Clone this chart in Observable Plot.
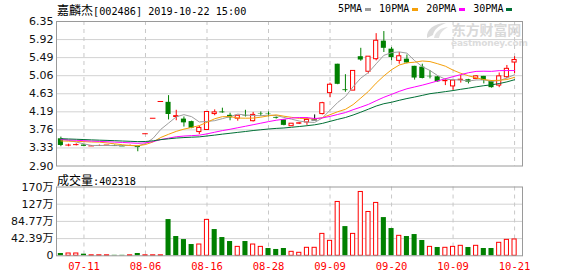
<!DOCTYPE html>
<html><head><meta charset="utf-8">
<script src="https://cdn.jsdelivr.net/npm/d3@7"></script>
<script src="https://cdn.jsdelivr.net/npm/@observablehq/plot@0.6"></script>
<style>
body{margin:0;background:#fff;}
#wrap{position:relative;width:578px;height:276px;overflow:hidden;background:#fff;}
.abs{position:absolute;white-space:nowrap;line-height:1;}
.cjk{font-family:"Noto Sans CJK SC",sans-serif;font-size:12px;}
.mono{font-family:"DejaVu Sans Mono",monospace;font-size:10px;}
#p1,#p2{position:absolute;left:0;}
#p1{top:0;} #p2{top:170px;}
.sw{display:inline-block;width:6px;height:3px;vertical-align:middle;margin:0 0 0 3px;}
</style></head>
<body><div id="wrap">
<svg class="abs" style="left:424px;top:21px" width="26" height="19" viewBox="0 0 26 19">
  <path d="M3 17 C 2 9, 10 2, 22 2 C 14 5, 10 9, 9 14 Z" fill="#dadada"/>
  <path d="M10 17 C 11 11, 16 7, 24 6 C 19 9, 16 12, 15 17 Z" fill="#e2e2e2"/>
</svg>
<div class="abs" style="left:452px;top:22px;color:#d9d9d9;font-family:'Noto Sans CJK SC';font-weight:bold;font-size:14px;letter-spacing:-0.2px">东方财富网</div>
<div class="abs" style="left:451px;top:39px;color:#dcdcdc;font-family:'DejaVu Sans';font-weight:bold;font-size:9px;letter-spacing:-0.2px">eastmoney.com</div>
<div id="p1"></div><div id="p2"></div>
<div class="abs" style="left:57px;top:2px;color:#000"><span class="cjk">嘉麟杰</span><span class="mono" style="font-size:10.2px">[002486] 2019-10-22 15:00</span></div>
<div class="abs mono" id="legend" style="left:338px;top:4px;color:#000"></div>
<div class="abs" style="left:57px;top:172px;color:#000"><span class="cjk">成交量</span><span class="mono" style="font-size:10.2px">:402318</span></div>
</div>
<script>
// ---- data (prices in yuan, volume in 万) ----
const preClose = [3.60,3.62,3.58,3.61,3.59,3.57,3.60,3.62,3.59,3.58,
  3.57,3.55,3.58,3.56,3.54,3.57,3.55,3.56,3.58,3.55,
  3.46,3.44,3.45,3.47,3.43,3.58,3.61,3.59,3.57];
const open = [3.55,3.40,3.41,3.40,3.38,3.39,3.40,3.39,3.38,3.39,
  3.37,3.67,4.04,4.44,4.42,4.07,4.02,3.96,3.71,3.76,
  4.14,4.19,4.11,4.03,4.10,3.97,4.15,4.14,4.06,4.00,
  3.85,3.91,3.94,4.00,4.14,4.64,5.33,4.72,4.70,5.51,
  5.15,5.45,5.88,5.69,5.41,5.45,5.28,5.26,5.04,5.03,
  4.925,4.80,4.95,4.96,4.98,5.04,4.92,4.82,5.02,5.37];
const high = [3.59,3.42,3.43,3.41,3.39,3.40,3.40,3.40,3.39,3.40,
  3.38,3.67,4.04,4.44,4.58,4.23,4.07,3.97,3.85,4.19,
  4.24,4.28,4.16,4.10,4.23,4.18,4.19,4.19,4.07,4.00,
  3.91,3.93,4.05,4.12,4.42,4.88,5.33,5.08,5.17,5.71,
  5.51,6.06,6.11,5.73,5.61,5.55,5.28,5.33,5.18,5.04,
  4.98,4.94,5.06,4.97,5.06,5.04,4.93,5.12,5.30,5.51];
const low = [3.36,3.36,3.38,3.36,3.37,3.38,3.40,3.38,3.37,3.38,
  3.24,3.67,4.04,4.44,4.00,3.98,3.83,3.79,3.65,3.75,
  4.10,4.16,3.98,3.97,4.07,3.95,4.08,4.07,4.02,3.86,
  3.85,3.89,3.87,4.00,4.12,4.53,4.84,4.66,4.70,5.40,
  5.10,5.41,5.61,5.41,5.33,5.34,4.95,4.98,4.98,4.90,
  4.82,4.70,4.88,4.86,4.96,4.86,4.76,4.77,4.98,5.10];
const close = [3.39,3.40,3.41,3.37,3.38,3.39,3.40,3.39,3.38,3.39,
  3.34,3.67,4.04,4.44,4.13,4.09,3.93,3.80,3.81,4.19,
  4.18,4.17,4.05,4.10,4.09,4.12,4.14,4.13,4.04,3.87,
  3.91,3.92,4.00,4.00,4.40,4.84,4.85,4.70,5.17,5.43,
  5.51,5.89,5.71,5.49,5.52,5.36,5.00,4.99,5.03,4.91,
  4.93,4.94,4.96,4.90,5.04,4.94,4.77,5.04,5.22,5.43];
const volume = [5.7,5.7,5.7,4.0,1.2,1.2,1.2,1.2,1.2,1.2,
  5.7,1.2,1.2,1.2,89.3,47.5,40.0,27.8,27.8,88.5,
  64.7,45.0,35.2,22.0,35.2,27.8,22.0,18.0,15.6,18.0,
  9.8,7.4,19.7,19.7,54.0,36.9,132.7,72.0,54.0,157.3,
  108.0,130.3,94.2,67.2,49.2,47.5,52.4,37.7,22.0,20.5,
  19.7,22.0,24.6,20.5,24.6,18.0,18.0,32.0,39.3,40.23];
const dateTickIndex = [3,11,19,27,35,43,51,59];
const dateTickLabels = ["07-11","08-06","08-16","08-28","09-09","09-20","10-09","10-21"];
const priceTickValues = [6.35,5.91875,5.4875,5.05625,4.625,4.19375,3.7625,3.33125,2.90];
const priceTickLabels = ["6.35","5.92","5.49","5.06","4.63","4.19","3.76","3.33","2.90"];
const volTickValues = [0,42.385,84.77,127.155,169.54];
const volTickLabels = ["0","42.39万","84.77万","127万","170万"];
const maPeriods = [5,10,20,30];
const maNames = ["5PMA","10PMA","20PMA","30PMA"];

// ---- styles ----
const RED="#ff0000", GREEN="#008000", BLACK="#000000";
const maColors = ["#9e9e9e","#f5a00a","#ff00ff","#006f35"];
const GRID="#d2d2d2", DASH="#c8c8c8", FRAME="#9a9a9a";
const numFont = "DejaVu Sans";
const svgStyle = {background:"transparent", overflow:"visible"};

const all = preClose.concat(close);
const rows = close.map((c,i)=>({i,o:open[i],h:high[i],l:low[i],c,v:volume[i],
  pc: all[preClose.length+i-1]}));
const candleColor = d => d.c>d.o?RED : d.c<d.o?GREEN : (d.c>d.pc?RED : d.c<d.pc?GREEN : BLACK);
const maData = maPeriods.map((n,k)=>close.map((c,i)=>{
  const end = preClose.length+i;
  return {i, v: d3.mean(all.slice(end-n+1,end+1)), k};
}));

const xScale = {type:"linear", domain:[-0.572,60.03], axis:null};
const W=578;

const price = Plot.plot({
  width:W, height:170, marginLeft:56, marginRight:56, marginTop:21, marginBottom:4.5,
  style:svgStyle,
  x:xScale, y:{domain:[2.90,6.35], axis:null},
  marks:[
    Plot.ruleY(priceTickValues.slice(1,-1),{stroke:GRID}),
    Plot.ruleX(dateTickIndex,{stroke:DASH, strokeDasharray:"4,4"}),
    Plot.ruleX(rows,{x:"i", y1:"l", y2:"h", stroke:candleColor}),
    Plot.rect(rows.filter(d=>d.c<d.o),{x1:d=>d.i-0.33, x2:d=>d.i+0.33, y1:"o", y2:"c", fill:GREEN}),
    Plot.rect(rows.filter(d=>d.c>d.o),{x1:d=>d.i-0.27, x2:d=>d.i+0.27, y1:"o", y2:"c", fill:"white", stroke:RED}),
    Plot.ruleY(rows.filter(d=>d.c===d.o),{y:"c", x1:d=>d.i-0.36, x2:d=>d.i+0.36, stroke:candleColor}),
    ...maData.map((arr,k)=>Plot.line(arr,{x:"i", y:"v", stroke:maColors[k], strokeWidth:1})),
    Plot.frame({stroke:FRAME}),
    Plot.text(priceTickValues,{y:d=>d, text:(d,i)=>priceTickLabels[i], frameAnchor:"left", textAnchor:"end", dx:-3,
      fontSize:11, fontFamily:numFont, fill:"#111"})
  ]
});
document.getElementById("p1").appendChild(price);

const vol = Plot.plot({
  width:W, height:106, marginLeft:56, marginRight:56, marginTop:16.5, marginBottom:20.7,
  style:svgStyle,
  x:xScale, y:{domain:[0,169.54], axis:null},
  marks:[
    Plot.ruleY(volTickValues.slice(1,-1),{stroke:GRID}),
    Plot.ruleX(dateTickIndex,{stroke:DASH, strokeDasharray:"4,4"}),
    Plot.rect(rows.filter(d=>d.c<d.pc),{x1:d=>d.i-0.33, x2:d=>d.i+0.33, y1:0, y2:"v", fill:GREEN}),
    Plot.rect(rows.filter(d=>d.c>=d.pc),{x1:d=>d.i-0.27, x2:d=>d.i+0.27, y1:0, y2:"v", fill:"white", stroke:RED}),
    Plot.frame({stroke:FRAME}),
    Plot.text(volTickValues,{y:d=>d, text:(d,i)=>volTickLabels[i], frameAnchor:"left", textAnchor:"end", dx:-3,
      fontSize:11, fontFamily:numFont+", Noto Sans CJK SC", fill:"#111"}),
    Plot.text(dateTickIndex,{x:d=>d, text:(d,i)=>dateTickLabels[i], frameAnchor:"bottom", dy:11, lineAnchor:"middle",
      fontSize:10.5, fontFamily:"DejaVu Sans Mono", fill:RED})
  ]
});
document.getElementById("p2").appendChild(vol);

// legend
const lg = document.getElementById("legend");
lg.innerHTML = maNames.map((n,k)=>`<span>${n}</span><span class="sw" style="background:${maColors[k]}"></span>`).join('<span style="display:inline-block;width:8px"></span>');
</script>
</body></html>
